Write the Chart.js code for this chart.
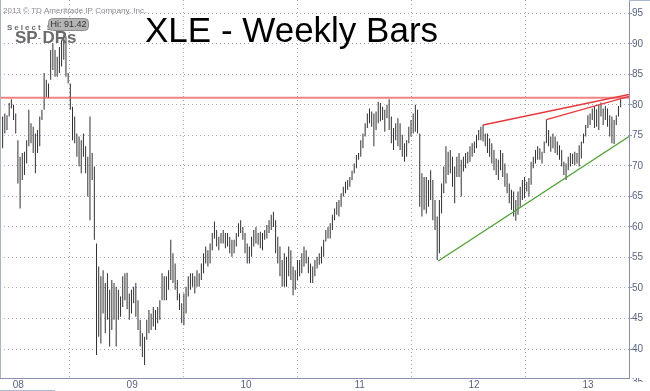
<!DOCTYPE html>
<html><head><meta charset="utf-8">
<style>html,body{margin:0;padding:0;background:#fff}#wrap{width:650px;height:391px;position:relative}</style>
<script src="https://cdn.jsdelivr.net/npm/chart.js@4.4.0/dist/chart.umd.min.js"></script>
</head><body><div id="wrap"><canvas id="c" width="650" height="391"></canvas></div>
<script>
// ---- data (weekly bars, XLE) ----
const firstWeekYear = 2007.912;           // fractional year of first weekly bar
const weekLength = 7 / 365.25;            // one week, in years
const weeklyHigh = [
  78.1,78.6,78.3,80.3,80.9,80.0,78.6,74.2,71.5,72.1,
  72.3,74.2,79.2,77.0,76.4,75.3,75.9,78.1,79.2,85.2,
  84.1,83.5,89.0,90.1,89.0,87.9,89.5,90.6,91.4,91.2,
  85.2,83.5,79.7,78.1,75.3,74.8,74.2,75.3,73.2,71.5,
  78.1,72.1,69.9,57.3,53.5,51.9,52.9,50.8,52.4,49.7,
  51.3,50.8,50.2,49.7,48.6,51.9,52.4,52.5,49.1,49.7,
  50.2,50.8,48.0,44.8,42.6,42.0,44.8,46.4,45.8,46.9,
  46.4,46.9,48.0,52.4,51.9,51.9,52.9,57.9,55.7,54.0,
  51.3,49.1,47.5,49.1,50.2,51.9,52.4,52.4,51.9,52.9,
  52.4,54.0,55.7,56.8,56.2,57.3,59.0,60.9,59.5,58.4,
  59.0,59.5,59.0,59.0,58.4,57.9,57.9,59.0,60.6,61.1,
  60.0,59.0,57.3,56.8,58.4,59.5,60.0,59.0,59.2,59.0,
  59.5,60.3,61.1,62.0,62.5,61.1,58.4,56.8,54.6,55.7,
  55.1,56.8,56.2,53.5,52.9,54.6,54.6,55.7,56.8,56.2,
  55.1,54.0,53.5,54.6,55.1,55.7,56.8,57.9,59.5,60.0,
  60.6,62.0,63.0,64.1,64.4,65.5,66.6,67.4,67.7,68.2,
  69.2,70.4,71.8,72.1,74.2,75.3,77.0,78.6,79.4,78.9,
  78.6,78.9,80.5,80.3,79.7,79.2,80.0,80.9,78.1,76.2,
  77.0,77.8,77.0,75.1,73.7,74.2,76.4,77.5,78.6,80.0,
  79.2,75.3,68.8,68.2,68.2,67.7,69.3,67.7,64.4,61.7,
  64.4,67.1,69.9,73.2,72.3,72.6,71.5,69.9,71.5,72.1,
  71.0,71.5,72.1,72.3,73.2,73.7,74.0,75.1,75.9,76.4,
  76.7,75.3,75.3,74.5,73.7,72.6,71.2,71.0,72.6,72.1,
  70.4,68.8,67.1,66.1,65.8,64.4,65.8,66.6,67.7,68.2,
  67.4,68.0,70.7,71.5,72.6,73.2,72.9,72.3,74.0,77.6,
  75.9,74.8,75.3,74.8,74.0,73.4,72.6,70.7,70.4,71.5,
  72.1,72.0,72.3,72.1,73.4,74.0,75.3,76.7,78.3,78.6,
  79.4,79.8,79.3,80.0,80.4,79.4,79.8,79.4,78.3,78.1,
  77.5,78.3,79.8,80.9
];
const weeklyLow = [
  72.9,75.3,75.9,78.1,79.4,77.5,75.3,67.1,63.0,67.7,
  68.5,70.4,73.2,73.7,72.1,68.8,72.1,73.2,77.5,79.2,
  81.3,81.1,84.1,85.7,84.6,84.6,85.2,86.3,87.4,84.6,
  83.5,79.2,74.2,73.7,71.5,69.9,68.8,71.5,68.8,65.0,
  61.1,67.7,57.9,39.0,42.0,40.9,45.8,42.6,44.8,40.4,
  43.1,44.8,40.4,44.8,45.3,46.9,48.0,46.5,44.8,45.8,
  47.5,45.3,43.1,40.4,38.7,37.4,41.5,42.6,43.1,43.7,
  43.1,44.2,44.8,48.0,48.0,48.0,49.7,51.3,50.8,49.7,
  48.0,46.4,44.2,43.9,45.8,48.6,49.7,50.2,49.1,50.2,
  50.2,51.3,52.4,54.0,53.5,54.0,56.2,58.1,56.8,56.2,
  57.3,57.3,56.5,56.8,55.7,55.1,55.7,56.8,58.4,59.0,
  57.9,55.7,54.0,54.0,55.1,56.8,57.3,57.1,56.5,56.2,
  57.9,58.1,59.0,59.5,60.0,55.7,54.0,51.9,50.2,50.2,
  50.2,51.9,51.3,48.8,49.7,51.3,51.9,52.4,53.5,54.0,
  52.4,50.8,50.8,51.9,53.2,53.8,54.0,55.1,57.6,58.1,
  58.1,59.5,61.1,62.0,61.7,63.3,65.0,65.5,66.1,66.6,
  67.7,68.8,69.6,71.0,71.5,72.9,74.8,76.2,77.0,76.4,
  73.2,75.9,77.0,77.3,77.5,75.6,77.8,75.9,73.7,72.6,
  74.2,73.2,72.6,71.5,70.7,71.5,73.7,74.8,75.3,75.6,
  75.3,63.3,61.7,62.8,62.2,63.3,64.4,61.1,59.5,54.6,
  55.7,62.2,65.5,67.1,68.5,68.8,66.6,63.9,68.2,68.2,
  65.0,69.1,69.6,70.4,70.7,71.5,72.1,72.9,74.2,74.2,
  74.0,73.2,72.1,71.5,70.4,69.3,68.5,67.7,69.3,68.2,
  66.6,65.5,63.9,62.8,61.7,61.0,62.0,63.3,64.4,64.7,
  65.8,65.0,66.9,69.6,70.4,71.0,71.0,70.4,72.1,73.7,
  73.2,72.3,72.9,72.1,71.8,71.0,69.9,68.5,67.7,69.3,
  69.9,70.3,70.1,70.4,69.9,71.2,73.7,74.8,76.2,76.7,
  77.5,76.2,76.4,75.9,78.1,76.7,77.5,76.4,74.8,73.7,
  73.6,76.7,78.1,79.6
];
const yearTicks = [2008, 2009, 2010, 2011, 2012, 2013];
const yearLabels = ['08', '09', '10', '11', '12', '13'];
const priceTicks = [40, 45, 50, 55, 60, 65, 70, 75, 80, 85, 90, 95];
const xRange = [2007.889, 2013.409];
const yRange = [35.25, 97.18];
// drawn trend lines: [year, price] end points
const resistanceLine = [[2007.889, 81.15], [2013.409, 81.15]];
const redTrendA = [[2012.128, 76.7], [2013.409, 81.7]];
const redTrendB = [[2012.684, 77.6], [2013.409, 81.4]];
const greenTrend = [[2011.735, 54.4], [2013.409, 74.8]];
const titleText = 'XLE - Weekly Bars';
const hiText = 'Hi: 91.42';

// ---- chart ----
const barData = weeklyHigh.map((h, i) => ({ x: firstWeekYear + i * weekLength, y: [weeklyLow[i], h] }));
const pts = arr => arr.map(p => ({ x: p[0], y: p[1] }));
const gridCol = '#a3a9c4';
const axisCol = '#8a91b0';
const labelCol = '#5a6284';
const FONT = '"Liberation Sans", Arial, sans-serif';

const overlay = {
  id: 'overlay',
  beforeDraw(chart) {
    const ctx = chart.ctx;
    ctx.save();
    ctx.fillStyle = '#fff';
    ctx.fillRect(0, 0, chart.width, chart.height);
    ctx.restore();
  },
  afterDraw(chart) {
    const ctx = chart.ctx;
    const ca = chart.chartArea;
    ctx.save();
    // frame lines
    ctx.strokeStyle = '#aab2cc';
    ctx.lineWidth = 1;
    ctx.beginPath(); ctx.moveTo(0.5, 0); ctx.lineTo(0.5, ca.bottom); ctx.stroke();
    ctx.strokeStyle = '#a8b6d8';
    ctx.beginPath(); ctx.moveTo(0, 390.5); ctx.lineTo(55, 390.5); ctx.stroke();
    ctx.beginPath(); ctx.moveTo(ca.right, 0.5); ctx.lineTo(650, 0.5); ctx.stroke();
    // partially clipped "35" label
    ctx.save();
    ctx.beginPath(); ctx.rect(ca.right + 1, ca.bottom, 30, 4); ctx.clip();
    ctx.fillStyle = labelCol; ctx.font = '10px ' + FONT; ctx.textBaseline = 'middle'; ctx.textAlign = 'left';
    ctx.fillText('35', ca.right + 3, chart.scales.y.getPixelForValue(35) + 3);
    ctx.restore();
    // copyright
    ctx.fillStyle = '#8a8a8a';
    ctx.font = '8px ' + FONT;
    ctx.textBaseline = 'alphabetic';
    ctx.textAlign = 'left';
    ctx.fillText('2013 \u00a9 TD Ameritrade IP Company, Inc.', 3, 13);
    // Select Sector (letter spaced)
    ctx.fillStyle = '#6a6a6a';
    ctx.font = 'bold 8px ' + FONT;
    let x = 7;
    for (const ch of 'Select Sector') { ctx.fillText(ch, x, 29.5); x += ctx.measureText(ch).width + 2.0; }
    // Hi box
    ctx.beginPath();
    ctx.roundRect(48.5, 18.5, 40, 12, 4);
    ctx.fillStyle = '#b4b4b4'; ctx.fill();
    ctx.strokeStyle = '#8e8e8e'; ctx.stroke();
    ctx.fillStyle = '#333';
    ctx.font = '9px ' + FONT; ctx.textAlign = 'center'; ctx.textBaseline = 'middle';
    ctx.fillText(hiText, 68.5, 25);
    // SPDRs
    ctx.fillStyle = '#6b6b6b';
    ctx.font = 'bold 17px ' + FONT; ctx.textAlign = 'left'; ctx.textBaseline = 'alphabetic';
    ctx.fillText('SP', 15, 42.5);
    ctx.font = 'bold 8px ' + FONT;
    ctx.fillText('-', 38, 40);
    ctx.font = 'bold 17px ' + FONT;
    ctx.fillText('DRs', 42.5, 42.5);
    // title
    ctx.fillStyle = '#000';
    ctx.font = '35px ' + FONT;
    ctx.fillText(titleText, 145, 42);
    ctx.restore();
  }
};

new Chart(document.getElementById('c'), {
  type: 'bar',
  data: {
    datasets: [
      { type: 'line', data: pts(redTrendA), borderColor: '#e8383a', borderWidth: 1.3, pointRadius: 0, order: 0 },
      { type: 'line', data: pts(redTrendB), borderColor: '#e8383a', borderWidth: 1.3, pointRadius: 0, order: 0 },
      { type: 'line', data: pts(greenTrend), borderColor: '#48a02c', borderWidth: 1.2, pointRadius: 0, order: 0 },
      { type: 'line', data: pts(resistanceLine), borderColor: 'rgba(236,90,90,0.75)', borderWidth: 2, pointRadius: 0, order: 0 },
      { type: 'bar', data: barData, backgroundColor: '#303030', borderWidth: 0, barThickness: 1, inflateAmount: 0, order: 1 }
    ]
  },
  options: {
    responsive: false,
    animation: false,
    devicePixelRatio: 1,
    layout: { padding: 0 },
    plugins: { legend: { display: false }, tooltip: { enabled: false }, title: { display: false } },
    scales: {
      x: {
        type: 'linear', position: 'bottom', min: xRange[0], max: xRange[1], offset: false,
        afterBuildTicks: s => { s.ticks = yearTicks.map(v => ({ value: v })); },
        afterFit: s => { s.height = 13; s.paddingLeft = 0; s.paddingRight = 0; },
        ticks: { align: 'start', padding: 1, color: labelCol, font: { size: 10, family: FONT },
                 maxRotation: 0, autoSkip: false,
                 callback: (v) => yearLabels[yearTicks.indexOf(v)] },
        grid: { color: gridCol, lineWidth: 1, drawTicks: false },
        border: { display: true, color: axisCol, width: 1, dash: [1, 3] }
      },
      y: {
        type: 'linear', position: 'right', min: yRange[0], max: yRange[1],
        afterBuildTicks: s => { s.ticks = priceTicks.map(v => ({ value: v })); },
        afterFit: s => { s.width = 21; s.paddingTop = 0; s.paddingBottom = 0; },
        ticks: { padding: 0, color: labelCol, font: { size: 10, family: FONT }, callback: v => String(v) },
        grid: { color: gridCol, lineWidth: 1, drawTicks: true, tickLength: 3, tickColor: axisCol, tickBorderDash: [] },
        border: { display: true, color: axisCol, width: 1, dash: [1, 3] }
      }
    }
  },
  plugins: [overlay]
});
</script>
</body></html>
